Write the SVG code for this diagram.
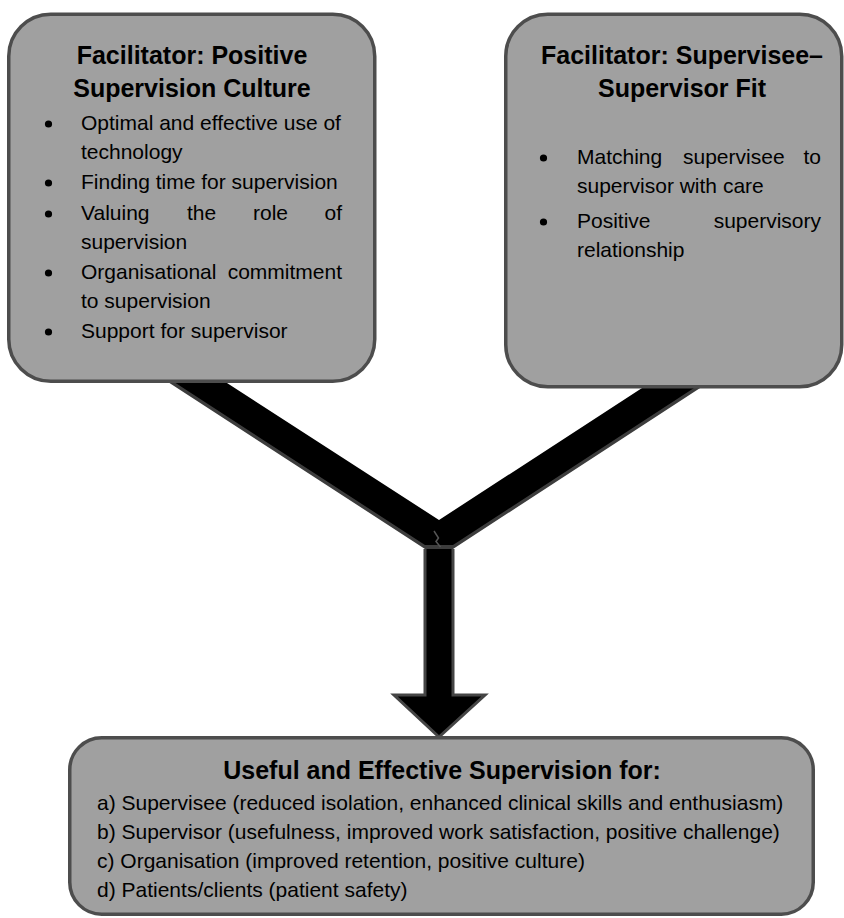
<svg xmlns="http://www.w3.org/2000/svg" width="844" height="918" viewBox="0 0 844 918">
  <style>
    .box { fill: #a0a0a0; stroke: #4d4d4d; stroke-width: 3.5; }
    .t { font-family: "Liberation Sans", Arial, sans-serif; font-size: 21px; fill: #000; }
    .h { font-family: "Liberation Sans", Arial, sans-serif; font-size: 25px; font-weight: bold; fill: #000; text-anchor: middle; }
    .e { text-anchor: end; }
    .dot { fill: #000; }
  </style>
  <defs>
    <circle id="bullet" r="3.6" class="dot"/>
  </defs>
  <rect width="844" height="918" fill="#ffffff"/>

  <g id="connectors">
    <path d="M155.6,370 L206.9,370 L439,520 L669.7,370 L721.6,370 L453,545 L425,545 Z" fill="#3d3d3d" transform="translate(0,4)"/>
    <path d="M155.6,370 L206.9,370 L439,520 L669.7,370 L721.6,370 L453,545 L425,545 Z" fill="#000000"/>
    <path d="M425,549 L425,695 L394,695 L439,737 L485,695 L453,695 L453,549" fill="#000000" stroke="#454545" stroke-width="3" stroke-linejoin="miter"/>
    <polyline points="434,531 438.5,538 436,541.5 440.5,547" fill="none" stroke="#555555" stroke-width="1.5"/>
  </g>

  <g id="node-positive-culture">
    <rect class="box" x="8.75" y="14.25" width="366" height="367" rx="42" ry="42"/>
    <text class="h" x="192" y="64">Facilitator: Positive</text>
    <text class="h" x="192" y="97">Supervision Culture</text>
    <use href="#bullet" x="48.5" y="124"/>
    <text class="t" x="81" y="130">Optimal and effective use of</text>
    <text class="t" x="81" y="159">technology</text>
    <use href="#bullet" x="48.5" y="183"/>
    <text class="t" x="81" y="189">Finding time for supervision</text>
    <use href="#bullet" x="48.5" y="214"/>
    <text class="t" x="81" y="220">Valuing</text>
    <text class="t" x="187" y="220">the</text>
    <text class="t" x="253" y="220">role</text>
    <text class="t e" x="342" y="220">of</text>
    <text class="t" x="81" y="249">supervision</text>
    <use href="#bullet" x="48.5" y="273"/>
    <text class="t" x="81" y="279">Organisational</text>
    <text class="t e" x="342" y="279">commitment</text>
    <text class="t" x="81" y="308">to supervision</text>
    <use href="#bullet" x="48.5" y="332"/>
    <text class="t" x="81" y="338">Support for supervisor</text>
  </g>

  <g id="node-fit">
    <rect class="box" x="505.75" y="14.25" width="336" height="372.5" rx="42" ry="42"/>
    <text class="h" x="682" y="64">Facilitator: Supervisee–</text>
    <text class="h" x="682" y="97">Supervisor Fit</text>
    <use href="#bullet" x="543.5" y="158"/>
    <text class="t" x="577" y="164">Matching</text>
    <text class="t" x="683" y="164">supervisee</text>
    <text class="t e" x="821" y="164">to</text>
    <text class="t" x="577" y="193">supervisor with care</text>
    <use href="#bullet" x="543.5" y="222"/>
    <text class="t" x="577" y="228">Positive</text>
    <text class="t e" x="821" y="228">supervisory</text>
    <text class="t" x="577" y="257">relationship</text>
  </g>

  <g id="node-outcome">
    <rect class="box" x="69.75" y="737.75" width="743.5" height="176.5" rx="32" ry="32"/>
    <text class="h" x="442" y="779">Useful and Effective Supervision for:</text>
    <text class="t" x="97" y="810">a) Supervisee (reduced isolation, enhanced clinical skills and enthusiasm)</text>
    <text class="t" x="97" y="839">b) Supervisor (usefulness, improved work satisfaction, positive challenge)</text>
    <text class="t" x="97" y="868">c) Organisation (improved retention, positive culture)</text>
    <text class="t" x="97" y="897">d) Patients/clients (patient safety)</text>
  </g>
</svg>
